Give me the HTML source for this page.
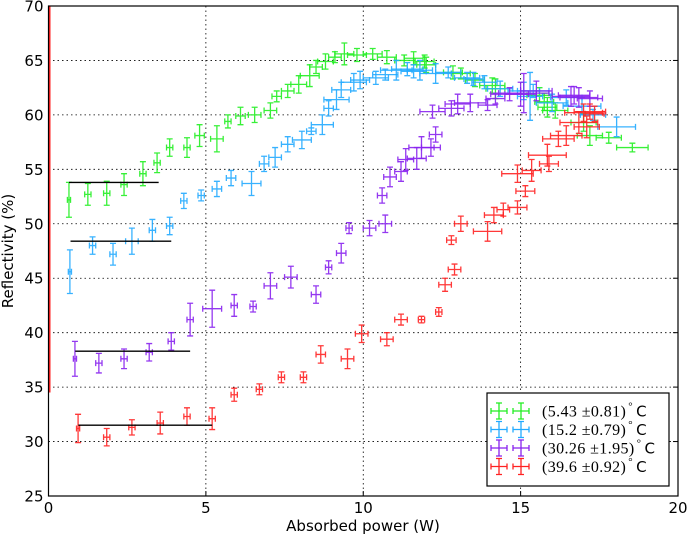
<!DOCTYPE html>
<html><head><meta charset="utf-8"><style>
html,body{margin:0;padding:0;background:#fff;}
svg{display:block;font-family:"DejaVu Sans","Liberation Sans",sans-serif;}
</style></head><body>
<svg id="chart" width="687" height="535" viewBox="0 0 687 535" xmlns="http://www.w3.org/2000/svg">
<g id="grid"></g>
<g id="marks"></g>
<rect x="48.5" y="6" width="629.5" height="490" fill="none" stroke="#000" stroke-width="1.2"/>
<g id="ticks"></g>
<text x="363" y="531" font-size="15" text-anchor="middle">Absorbed power (W)</text>
<text transform="translate(13,251) rotate(-90)" font-size="15" text-anchor="middle">Reflectivity (%)</text>
<g id="legend"></g>
</svg>
<script>
const xTicks=[0,5,10,15,20];
const yTicks=[25,30,35,40,45,50,55,60,65,70];
const seriesNames=["(5.43 \u00b10.81)","(15.2 \u00b10.79)","(30.26 \u00b11.95)","(39.6 \u00b10.92)"];
const seriesColors=["#22ee22","#22aaff","#8822ee","#ff2222"];
const gX=[0.65,1.25,1.85,2.4,3.0,3.45,3.85,4.4,4.8,5.35,5.7,6.1,6.55,7.05,7.25,7.6,7.95,8.3,8.5,8.8,9.1,9.4,9.8,10.3,10.75,11.3,11.6,11.95,12.0,12.85,13.1,13.55,14.1,14.2,15.6,15.75,15.85,16.1,17.0,17.2,17.8,18.55];
const gY=[52.2,52.7,52.8,53.6,54.6,55.6,57.0,57.0,58.1,57.8,59.4,59.9,60.0,60.4,61.7,62.2,62.8,63.6,64.4,64.9,65.3,65.6,65.5,65.6,65.3,65.0,65.2,64.9,64.6,63.9,63.8,63.2,62.7,62.4,61.8,61.2,60.7,60.4,59.3,58.1,57.9,57.0];
const gXE=[0.05,0.1,0.1,0.1,0.1,0.1,0.1,0.1,0.15,0.2,0.1,0.15,0.2,0.2,0.15,0.2,0.25,0.3,0.2,0.25,0.2,0.3,0.3,0.3,0.3,0.3,0.3,0.3,0.3,0.3,0.3,0.3,0.4,0.3,0.4,0.3,0.3,0.4,0.4,0.4,0.4,0.5];
const gYE=[1.6,1.0,1.1,1.0,1.1,0.9,0.8,0.9,1.0,1.2,0.6,0.8,0.7,0.7,0.5,0.6,0.8,1.0,0.6,0.7,0.5,1.0,0.6,0.5,0.6,0.5,0.6,0.6,0.7,0.6,0.5,0.6,0.7,0.9,0.7,0.8,0.9,0.7,0.8,0.9,0.5,0.4];
const bX=[0.68,1.4,2.05,2.65,3.3,3.85,4.3,4.85,5.35,5.8,6.45,6.85,7.2,7.6,8.05,8.35,8.7,8.9,9.15,9.3,9.7,9.9,10.4,10.7,11.05,11.4,11.6,11.8,12.3,12.7,13.3,13.5,13.85,14.35,15.1,15.3,15.4,16.0,16.45,16.95,17.3,18.05];
const bY=[45.6,48.0,47.2,48.4,49.4,49.8,52.1,52.6,53.2,54.2,53.7,55.5,56.1,57.3,57.7,58.5,59.1,60.6,61.4,62.3,63.0,63.2,63.4,63.7,64.1,64.2,64.0,64.1,63.8,63.9,63.4,63.3,63.0,62.4,62.2,61.7,62.2,61.1,61.6,60.8,60.0,58.9];
const bXE=[0.05,0.1,0.1,0.2,0.1,0.1,0.1,0.1,0.15,0.15,0.3,0.15,0.2,0.2,0.3,0.15,0.35,0.15,0.4,0.3,0.4,0.3,0.4,0.4,0.5,0.5,0.4,0.4,0.5,0.4,0.4,0.3,0.4,0.4,0.5,0.4,0.5,0.5,0.5,0.6,0.4,0.6];
const bYE=[2.0,0.8,1.0,1.2,1.0,0.8,0.7,0.5,0.7,0.7,1.1,0.7,0.9,0.7,0.8,0.3,0.9,0.7,0.9,0.7,0.8,0.8,0.6,0.5,0.9,0.6,0.6,0.9,0.9,0.5,0.5,0.6,0.6,0.7,0.8,2.2,0.6,0.8,0.7,0.8,0.5,0.9];
const pX=[0.84,1.6,2.4,3.2,3.9,4.5,5.2,5.9,6.5,7.05,7.7,8.5,8.9,9.3,9.55,10.2,10.7,10.6,10.85,11.2,11.35,11.7,11.85,12.15,12.3,12.2,12.8,13.0,13.4,13.95,14.2,14.65,15.0,15.1,15.5,16.6,16.7,16.85,17.2];
const pY=[37.6,37.2,37.6,38.2,39.2,41.2,42.2,42.5,42.4,44.3,45.1,43.5,46.0,47.3,49.6,49.6,50.0,52.6,54.3,54.8,55.9,56.0,57.0,57.0,58.2,60.3,60.6,61.0,61.1,60.9,61.5,61.9,61.9,62.0,62.2,61.7,61.8,61.6,61.5];
const pXE=[0.05,0.1,0.1,0.1,0.1,0.1,0.3,0.1,0.1,0.2,0.2,0.15,0.1,0.15,0.1,0.2,0.2,0.15,0.2,0.2,0.25,0.3,0.4,0.3,0.2,0.4,0.4,0.4,0.5,0.3,0.3,0.6,0.5,0.8,0.5,0.6,0.5,0.6,0.4];
const pYE=[1.6,0.9,0.9,0.8,0.8,1.5,1.7,1.0,0.5,1.2,1.0,0.8,0.6,0.9,0.5,0.7,0.8,0.7,0.9,0.9,1.0,1.0,1.0,0.8,0.7,0.6,0.7,0.9,0.8,0.5,0.5,0.6,1.1,1.8,0.9,0.9,0.8,0.9,0.7];
const rX=[0.94,1.85,2.65,3.55,4.4,5.2,5.9,6.7,7.4,8.1,8.65,9.5,9.95,10.75,11.2,11.85,12.4,12.6,12.9,12.8,13.1,13.95,14.15,14.45,14.9,14.9,15.15,15.35,15.85,15.9,16.2,16.45,16.85,17.0,17.1,17.2,17.35];
const rY=[31.2,30.4,31.3,31.7,32.3,32.1,34.3,34.8,35.9,35.9,38.0,37.6,39.9,39.4,41.2,41.2,41.9,44.4,45.8,48.5,50.0,49.3,50.8,51.3,51.5,54.6,53.0,54.9,56.3,55.5,57.8,58.1,59.3,60.2,58.9,60.3,60.1];
const rXE=[0.05,0.1,0.1,0.1,0.1,0.1,0.1,0.1,0.1,0.1,0.15,0.2,0.2,0.2,0.2,0.1,0.1,0.2,0.2,0.15,0.2,0.45,0.3,0.2,0.3,0.5,0.3,0.3,0.6,0.3,0.5,0.5,0.6,0.6,0.4,0.5,0.3];
const rYE=[1.3,0.8,0.7,1.0,0.8,1.0,0.6,0.5,0.5,0.5,0.8,0.9,0.8,0.6,0.5,0.3,0.4,0.6,0.5,0.4,0.7,0.9,0.7,0.6,0.6,0.8,0.5,1.0,1.0,0.7,0.7,0.9,1.0,0.8,1.0,0.7,0.7];
const meanLines=[[0.65,3.5,53.8],[0.7,3.9,48.4],[0.85,4.5,38.3],[0.95,5.2,31.5]];
const edgeLineTop=70, edgeLineBottom=34.5;

const NS="http://www.w3.org/2000/svg";
const X0=48.5,X1=678,Y0=496,Y1=6;
function sx(v){return X0+(v-0)/(20-0)*(X1-X0);}
function sy(v){return Y0-(v-25)/(70-25)*(Y0-Y1);}
function mk(tag,attrs,parent){const e=document.createElementNS(NS,tag);for(const k in attrs)e.setAttribute(k,attrs[k]);parent.appendChild(e);return e;}
const grid=document.getElementById('grid'),ticks=document.getElementById('ticks'),marks=document.getElementById('marks'),legend=document.getElementById('legend');
xTicks.forEach(t=>{
  if(t>0&&t<20){const l=mk('line',{x1:sx(t),x2:sx(t),y1:Y1,y2:Y0,stroke:'#000','stroke-width':0.8,'stroke-dasharray':'1.5,3'},grid);
  
  }
  const tk=mk('line',{x1:sx(t),x2:sx(t),y1:Y0,y2:Y0-5,stroke:'#000'},ticks);
  
  
  const tx=mk('text',{x:sx(t),y:Y0+17,'font-size':15,'text-anchor':'middle'},ticks);
  
  
  tx.textContent=t;
});
yTicks.forEach(t=>{
  if(t>25&&t<70){const l=mk('line',{x1:X0,x2:X1,y1:sy(t),y2:sy(t),stroke:'#000','stroke-width':0.8,'stroke-dasharray':'1.5,3'},grid);
  
  }
  const tk=mk('line',{x1:X1,x2:X1-5,y1:sy(t),y2:sy(t),stroke:'#000'},ticks);
  
  
  const tx=mk('text',{x:X0-5,y:sy(t)+5.5,'font-size':15,'text-anchor':'end'},ticks);
  
  
  tx.textContent=t;
});
const edge=mk('line',{x1:sx(0)+1,x2:sx(0)+1,y1:sy(edgeLineTop),y2:sy(edgeLineBottom),stroke:'#ff2222','stroke-width':2},marks);


const all=[[gX,gY,gXE,gYE],[bX,bY,bXE,bYE],[pX,pY,pXE,pYE],[rX,rY,rXE,rYE]];
function errbar(g,x,y,xe,ye,c){
  const cx=sx(x),cy=sy(y),x1=sx(x-xe),x2=sx(x+xe),y1=sy(y+ye),y2=sy(y-ye),cap=3;
  const p=mk('path',{d:`M${x1},${cy}H${x2}M${x1},${cy-cap}V${cy+cap}M${x2},${cy-cap}V${cy+cap}M${cx},${y1}V${y2}M${cx-cap},${y1}H${cx+cap}M${cx-cap},${y2}H${cx+cap}`,stroke:c,'stroke-width':1.3,fill:'none','stroke-opacity':0.9},g);
  
  
}
all.forEach((s,i)=>{
  const g=mk('g',{},marks);
  
  
  s[0].forEach((x,j)=>errbar(g,x,s[1][j],s[2][j],s[3][j],seriesColors[i]));
});
meanLines.forEach(m=>{
  const l=mk('line',{x1:sx(m[0]),x2:sx(m[1]),y1:sy(m[2]),y2:sy(m[2]),stroke:'#000','stroke-width':1.4},marks);
  
  
});
const box=mk('rect',{x:487,y:393,width:182,height:93,fill:'#fff',stroke:'#000','stroke-width':1.2},legend);


seriesNames.forEach((n,i)=>{
  const y=411+i*18.5;
  const g=mk('g',{},legend);
  
  
  [499,521].forEach(cx=>{
    mk('path',{d:`M${cx-8},${y}H${cx+8}M${cx-8},${y-3}V${y+3}M${cx+8},${y-3}V${y+3}M${cx},${y-8}V${y+8}M${cx-3},${y-8}H${cx+3}M${cx-3},${y+8}H${cx+3}`,stroke:seriesColors[i],'stroke-width':1.3,fill:'none'},g);
  });
  const t=mk('text',{x:542,y:y+5.5,'font-size':16,'letter-spacing':0.4,'font-family':'"Liberation Serif","DejaVu Serif",serif'},g);
  t.textContent=n;
  const d=mk('tspan',{'font-size':11,dy:-7,dx:2},t);d.textContent='\u00b0';
  const c=mk('tspan',{'font-family':'"DejaVu Sans",sans-serif','font-size':15,dy:7,dx:3},t);c.textContent='C';
});
</script>
</body></html>
